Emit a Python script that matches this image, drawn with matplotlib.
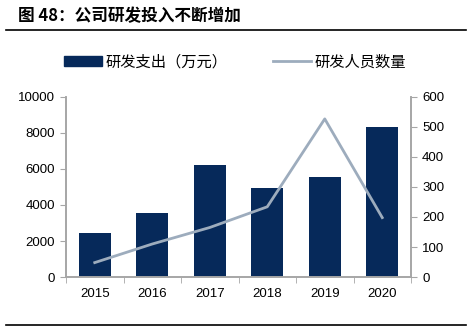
import matplotlib.pyplot as plt
from matplotlib.lines import Line2D
from matplotlib.patches import Patch

years = ['2015', '2016', '2017', '2018', '2019', '2020']
rd_spend = [2460, 3570, 6250, 4930, 5570, 8350]   # 研发支出（万元）
rd_staff = [48, 110, 165, 234, 527, 198]          # 研发人员数量

plt.rcParams['font.family'] = ['Liberation Sans', 'Noto Sans CJK SC', 'DejaVu Sans']

bar_color = '#06295A'
line_color = '#9DACBD'
axis_color = '#A6A6A6'

fig = plt.figure(figsize=(4.73, 3.34), dpi=100)
ax = fig.add_axes([66 / 473, 57 / 334, 345 / 473, 180 / 334])
x = range(len(years))
ax.bar(x, rd_spend, width=0.56, color=bar_color, zorder=2)
ax.set_xlim(-0.5, 5.5)
ax.set_ylim(0, 10000)
ax.set_yticks(range(0, 10001, 2000))
ax.set_xticks(list(x))
ax.set_xticklabels(years)
ax.set_xticks([i + 0.5 for i in range(-1, 6)], minor=True)
ax.tick_params(axis='x', which='major', length=0, pad=8, labelsize=9.5)
ax.tick_params(axis='x', which='minor', length=4, color=axis_color, direction='out')
ax.tick_params(axis='y', length=4, color=axis_color, labelsize=9.5, pad=4)

ax2 = ax.twinx()
ax2.plot(list(x), rd_staff, color=line_color, lw=2, zorder=3)
ax2.set_ylim(0, 600)
ax2.set_yticks(range(0, 601, 100))
ax2.tick_params(axis='y', length=4, color=axis_color, labelsize=9.5, pad=4)

for a in (ax, ax2):
    a.spines['top'].set_visible(False)
    for s in ('left', 'right', 'bottom'):
        a.spines[s].set_color(axis_color)
        a.spines[s].set_linewidth(1.2)

handles = [Patch(color=bar_color), Line2D([0], [0], color=line_color, lw=2)]
fig.legend(handles, ['研发支出（万元）', '研发人员数量'], ncol=2, frameon=False,
           loc='center', bbox_to_anchor=(235 / 473, 1 - 62 / 334), handlelength=2.5,
           handleheight=0.55, columnspacing=3.0, handletextpad=0.2,
           prop={'family': ['Noto Sans CJK SC'], 'size': 11})

fig.text(18 / 473, 1 - 16 / 334, '图 48：公司研发投入不断增加', fontsize=12, fontweight='bold',
         va='center', ha='left', family=['Noto Sans CJK SC', 'DejaVu Sans'])
fig.add_artist(Line2D([6 / 473, 466 / 473], [1 - 30 / 334] * 2, color='black', lw=1.2))
fig.add_artist(Line2D([6 / 473, 466 / 473], [1 - 325 / 334] * 2, color='black', lw=1.2))

fig.savefig('out.png', dpi=100)
